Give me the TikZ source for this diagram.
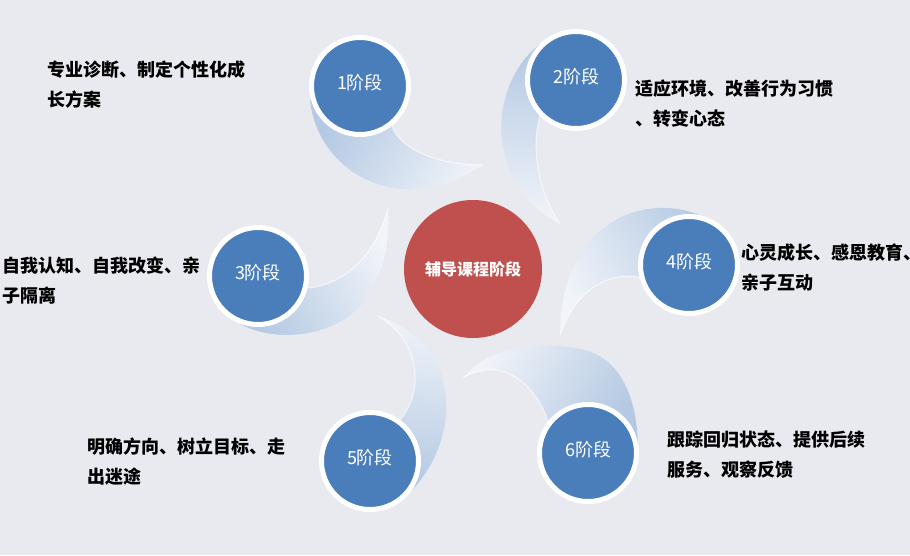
\documentclass[tikz,border=0pt]{standalone}
\usepackage{fontspec}
\newfontfamily\cjk{Noto Sans CJK SC}
\definecolor{bg}{RGB}{233,234,239}
\definecolor{stageblue}{RGB}{74,126,187}
\definecolor{centerred}{RGB}{192,80,77}
\definecolor{tailA}{RGB}{180,201,227}
\definecolor{tailB}{RGB}{241,244,249}
\tikzset{
  tail/.style={draw=none, shading=axis, top color=tailA, bottom color=tailB},
  rim/.style={white, line width=1.2pt, opacity=0.6},
  stage/.style={circle, fill=stageblue, draw=white, line width=5pt, minimum size=97pt,
    inner sep=0pt, text=white, text height=16pt, text depth=10pt,
    font=\cjk\fontsize{18}{18}\selectfont},
  hub/.style={circle, fill=centerred, minimum size=138pt, inner sep=0pt, text=white,
    font=\cjk\bfseries\fontsize{16}{16}\selectfont},
  desc/.style={anchor=west, align=left, inner sep=0pt, text=black,
    font=\cjk\bfseries\fontsize{18}{30}\selectfont}
}
\begin{document}
\begin{tikzpicture}[x=1pt,y=-1pt]
\fill[bg] (0,0) rectangle (910,555);
\useasboundingbox (0,0) rectangle (910,555);

% tail 1
\path[tail, shading angle=57] (310,100) .. controls (318,175) and (405,220) .. (482,165)
  .. controls (440,165) and (400,150) .. (392,126) -- cycle;
\draw[rim] (482,165) .. controls (440,165) and (400,150) .. (392,126);
% tail 2
\path[tail, shading angle=-6] (540,44) .. controls (482,90) and (490,190) .. (560,224)
  .. controls (540,195) and (530,150) .. (540,116) -- cycle;
\draw[rim] (560,224) .. controls (540,195) and (530,150) .. (540,116);
% tail 4
\path[tail, shading angle=-61] (714,222) .. controls (650,185) and (560,220) .. (560,335)
  .. controls (575,290) and (610,270) .. (641,278) -- cycle;
\draw[rim] (560,335) .. controls (575,290) and (610,270) .. (641,278);
% tail 3
\path[tail, shading angle=118] (240,324) .. controls (280,345) and (340,335) .. (365,300)
  .. controls (385,270) and (390,240) .. (388,208)
  .. controls (375,260) and (340,285) .. (308,288) -- cycle;
\draw[rim] (388,208) .. controls (375,260) and (340,285) .. (308,288);
% tail 5
\path[tail, shading angle=177] (412,490) .. controls (460,440) and (465,345) .. (378,316)
  .. controls (420,340) and (425,390) .. (400,420) -- cycle;
\draw[rim] (378,316) .. controls (420,340) and (425,390) .. (400,420);
% tail 6
\path[tail, shading angle=-121] (638,443) .. controls (636,395) and (620,360) .. (585,350)
  .. controls (540,340) and (490,345) .. (463,378)
  .. controls (490,360) and (530,370) .. (548,421) -- cycle;
\draw[rim] (463,378) .. controls (490,360) and (530,370) .. (548,421);

\node[hub] (hub) at (473,269) {辅导课程阶段};

\node[stage] (s1) at (360,86) {1阶段};
\node[stage] (s2) at (576,80) {2阶段};
\node[stage] (s3) at (258,276) {3阶段};
\node[stage] (s4) at (689,265) {4阶段};
\node[stage] (s5) at (370,461) {5阶段};
\node[stage] (s6) at (588,453) {6阶段};

\node[desc] (d1) at (47,85) {专业诊断、制定个性化成\\长方案};
\node[desc] (d2) at (635,104) {适应环境、改善行为习惯\\、转变心态};
\node[desc] (d3) at (2,281) {自我认知、自我改变、亲\\子隔离};
\node[desc] (d4) at (741,268) {心灵成长、感恩教育、\\亲子互动};
\node[desc] (d5) at (87,462) {明确方向、树立目标、走\\出迷途};
\node[desc] (d6) at (667,455) {跟踪回归状态、提供后续\\服务、观察反馈};
\end{tikzpicture}
\end{document}
